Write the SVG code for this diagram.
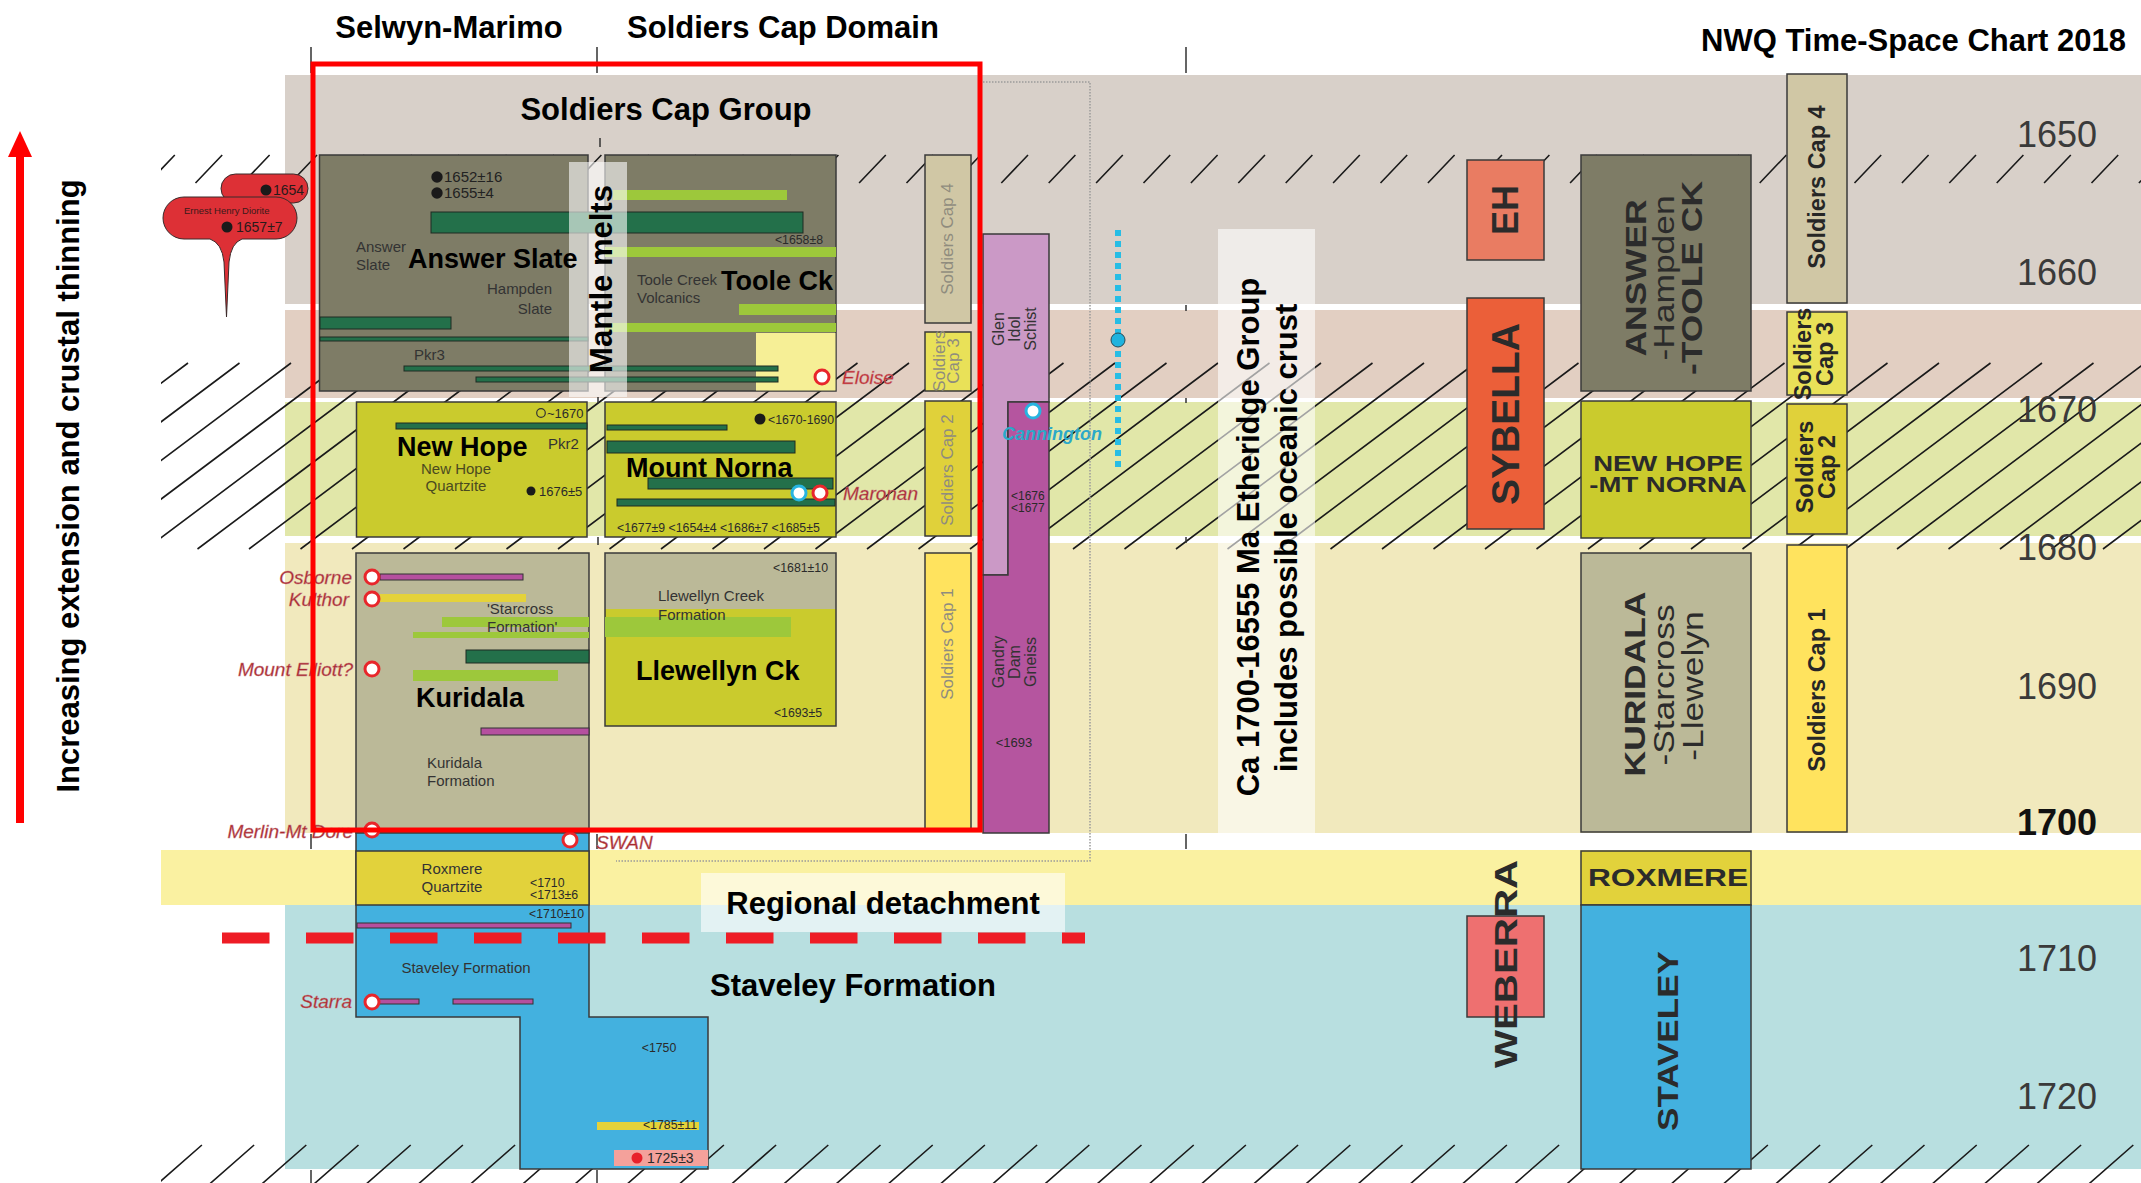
<svg xmlns="http://www.w3.org/2000/svg" width="2141" height="1183" viewBox="0 0 2141 1183">
<defs>
<style>
text{font-family:"Liberation Sans",Arial,Helvetica,sans-serif}
.hb{font-weight:bold;font-size:31px;fill:#000}
.lb{font-weight:bold;font-size:27px;fill:#000}
.sm{font-size:15px;fill:#333}
.xs{font-size:12.3px;fill:#2a2a2a}
.site{font-style:italic;font-size:19px;fill:#A8282F;stroke:#C87a7e;stroke-width:0.4}
.ax{font-size:36px;fill:#3a3a3a}
.box{stroke:#3a3a3a;stroke-width:1.5}
.dg{fill:#23704A;stroke:#1e2a22;stroke-width:1}
.lg{fill:#9DC83B}
.pu{fill:#B5509F;stroke:#333;stroke-width:1}
.ye{fill:#E4D23A}
.scL{font-size:17px;fill:#8F8C7E}
.scR{font-size:23.5px;font-weight:bold;fill:#262626}
.rb{font-weight:bold;fill:#2b2b2b}
.rc{fill:#fff;stroke:#E8262B;stroke-width:3}
.cc{fill:#fff;stroke:#27B4E0;stroke-width:3}
</style>
<clipPath id="hc"><rect x="161" y="0" width="1980" height="1183"/></clipPath>
</defs>

<g id="bands">
<rect x="285" y="75" width="1856" height="229" fill="#D8D0C9"/>
<rect x="285" y="310" width="1856" height="88" fill="#E2CFC2"/>
<rect x="285" y="402" width="1856" height="134" fill="#E1E7A9"/>
<rect x="285" y="543" width="1856" height="290" fill="#F1E9BD"/>
<rect x="161" y="850" width="1980" height="55" fill="#FAF1A1"/>
<rect x="285" y="905" width="1856" height="264" fill="#B8DFE0"/>
</g>

<g id="hatch" clip-path="url(#hc)" stroke="#1a1a1a" stroke-width="1.6" fill="none">
<path d="M-60 549l248-186M-8.5 549l248-186M43 549l248-186M94.5 549l248-186M146 549l248-186M197.5 549l248-186M249 549l248-186M300.5 549l248-186M352 549l248-186M403.5 549l248-186M455 549l248-186M506.5 549l248-186M558 549l248-186M609.5 549l248-186M661 549l248-186M712.5 549l248-186M764 549l248-186M815.5 549l248-186M867 549l248-186M918.5 549l248-186M970 549l248-186M1021.5 549l248-186M1073 549l248-186M1124.5 549l248-186M1176 549l248-186M1227.5 549l248-186M1279 549l248-186M1330.5 549l248-186M1382 549l248-186M1433.5 549l248-186M1485 549l248-186M1536.5 549l248-186M1588 549l248-186M1639.5 549l248-186M1691 549l248-186M1742.5 549l248-186M1794 549l248-186M1845.5 549l248-186M1897 549l248-186M1948.5 549l248-186M2000 549l248-186M2051.5 549l248-186M2103 549l248-186"/>
<path d="M148.1 183l26.7-28M195.5 183l26.7-28M242.9 183l26.7-28M290.3 183l26.7-28M337.7 183l26.7-28M385.1 183l26.7-28M432.5 183l26.7-28M479.9 183l26.7-28M527.3 183l26.7-28M574.7 183l26.7-28M622.1 183l26.7-28M669.5 183l26.7-28M716.9 183l26.7-28M764.3 183l26.7-28M811.7 183l26.7-28M859.1 183l26.7-28M906.5 183l26.7-28M953.9 183l26.7-28M1001.3 183l26.7-28M1048.7 183l26.7-28M1096.1 183l26.7-28M1143.5 183l26.7-28M1190.9 183l26.7-28M1238.3 183l26.7-28M1285.7 183l26.7-28M1333.1 183l26.7-28M1380.5 183l26.7-28M1427.9 183l26.7-28M1475.3 183l26.7-28M1522.7 183l26.7-28M1570.1 183l26.7-28M1617.5 183l26.7-28M1664.9 183l26.7-28M1712.3 183l26.7-28M1759.7 183l26.7-28M1807.1 183l26.7-28M1854.5 183l26.7-28M1901.9 183l26.7-28M1949.3 183l26.7-28M1996.7 183l26.7-28M2044.1 183l26.7-28M2091.5 183l26.7-28M2138.9 183l26.7-28"/>
<path d="M154 1187l47.9-42M206.2 1187l47.9-42M258.4 1187l47.9-42M310.6 1187l47.9-42M362.8 1187l47.9-42M415 1187l47.9-42M467.2 1187l47.9-42M519.4 1187l47.9-42M571.6 1187l47.9-42M623.8 1187l47.9-42M676 1187l47.9-42M728.2 1187l47.9-42M780.4 1187l47.9-42M832.6 1187l47.9-42M884.8 1187l47.9-42M937 1187l47.9-42M989.2 1187l47.9-42M1041.4 1187l47.9-42M1093.6 1187l47.9-42M1145.8 1187l47.9-42M1198 1187l47.9-42M1250.2 1187l47.9-42M1302.4 1187l47.9-42M1354.6 1187l47.9-42M1406.8 1187l47.9-42M1459 1187l47.9-42M1511.2 1187l47.9-42M1563.4 1187l47.9-42M1615.6 1187l47.9-42M1667.8 1187l47.9-42M1720 1187l47.9-42M1772.2 1187l47.9-42M1824.4 1187l47.9-42M1876.6 1187l47.9-42M1928.8 1187l47.9-42M1981 1187l47.9-42M2033.2 1187l47.9-42M2085.4 1187l47.9-42M2137.6 1187l47.9-42"/>
</g>

<g id="column-ticks" stroke="#333" stroke-width="1.5">
<path d="M311 47V73M597 47V73M1186 47V73M600 138V147M598 397V403M598 537V545M1186 305V311M1186 398V403M1186 537V543M311 834V849M597 834V849M1186 834V849M311 1170V1183M597 1170V1183"/>
</g>

<g id="headers">
<text class="hb" x="449" y="38" text-anchor="middle">Selwyn-Marimo</text>
<text class="hb" x="783" y="38" text-anchor="middle">Soldiers Cap Domain</text>
<text class="hb" x="2126" y="51" text-anchor="end">NWQ Time-Space Chart 2018</text>
<text class="hb" x="666" y="120" text-anchor="middle">Soldiers Cap Group</text>
</g>

<g id="time-axis" text-anchor="middle">
<text class="ax" x="2057" y="147">1650</text>
<text class="ax" x="2057" y="285">1660</text>
<text class="ax" x="2057" y="422">1670</text>
<text class="ax" x="2057" y="560">1680</text>
<text class="ax" x="2057" y="699">1690</text>
<text class="ax" x="2057" y="835" font-weight="bold" style="fill:#111">1700</text>
<text class="ax" x="2057" y="971">1710</text>
<text class="ax" x="2057" y="1109">1720</text>
</g>

<g id="ernest-henry">
<rect x="221" y="174" width="87" height="29" rx="14.5" fill="#DD3036" stroke="#3a2a2a" stroke-width="1"/>
<circle cx="266" cy="190" r="5.5" fill="#1a1a1a"/>
<text x="273" y="195" font-size="14" fill="#2a1a1a">1654</text>
<path d="M184 197H276A21 21 0 0 1 276 239H242Q231 243 229 262L226.5 317L224 262Q222 243 210 239H184A21 21 0 0 1 184 197Z" fill="#DD3036" stroke="#3a2a2a" stroke-width="1"/>
<text x="184" y="214" font-size="9.5" fill="#3a1a1a">Ernest Henry Diorite</text>
<circle cx="227" cy="227" r="5.5" fill="#1a1a1a"/>
<text x="236" y="232" font-size="14" fill="#2a1a1a">1657±7</text>
</g>

<g id="answer-slate">
<rect class="box" x="319.5" y="155" width="268.5" height="236" fill="#7E7C66"/>
</g>
<g id="toole-ck">
<rect class="box" x="605" y="155" width="231" height="236" fill="#7E7C66"/>
<rect x="756" y="333" width="79.5" height="57.5" fill="#F6EF96"/>
</g>
<g id="new-hope">
<rect class="box" x="356.5" y="402" width="230.5" height="135" fill="#CACB2D"/>
</g>
<g id="mount-norna">
<rect class="box" x="605" y="402" width="231" height="135" fill="#CACB2D"/>
</g>
<g id="kuridala">
<rect class="box" x="356" y="553" width="233" height="280" fill="#BBB998"/>
</g>
<g id="llewellyn-ck">
<rect x="605" y="553" width="231" height="56" fill="#BBB998"/>
<rect x="605" y="609" width="231" height="117" fill="#CACB2D"/>
<rect class="box" x="605" y="553" width="231" height="173" fill="none"/>
</g>
<g id="staveley">
<polygon class="box" points="356,833 589,833 589,1017 708,1017 708,1169 520,1169 520,1017 356,1017" fill="#43B1DF"/>
</g>
<g id="roxmere">
<rect class="box" x="356" y="851" width="233" height="54" fill="#E2D23B"/>
<text class="sm" x="452" y="874" text-anchor="middle" font-size="16.5">Roxmere</text>
<text class="sm" x="452" y="892" text-anchor="middle" font-size="16.5">Quartzite</text>
<text class="xs" x="530" y="887">&lt;1710</text>
<text class="xs" x="530" y="899">&lt;1713±6</text>
</g>

<g id="bars">
<rect class="dg" x="431" y="212" width="372" height="21"/>
<rect class="dg" x="320" y="317" width="131" height="12"/>
<rect class="dg" x="320" y="337" width="268" height="4"/>
<rect class="dg" x="404" y="366" width="374" height="5"/>
<rect class="dg" x="476" y="377" width="302" height="5"/>
<rect class="dg" x="396" y="423" width="191" height="6"/>
<rect class="dg" x="607" y="425" width="120" height="5"/>
<rect class="dg" x="607" y="441" width="188" height="12"/>
<rect class="dg" x="648" y="478" width="185" height="11"/>
<rect class="dg" x="617" y="499" width="218" height="7"/>
<rect class="dg" x="466" y="650" width="123" height="13"/>
<rect class="lg" x="613" y="190" width="174" height="10"/>
<rect class="lg" x="605" y="247" width="231" height="10"/>
<rect class="lg" x="739" y="304" width="97" height="11"/>
<rect class="lg" x="605" y="323" width="231" height="9"/>
<rect class="lg" x="442" y="617" width="147" height="10"/>
<rect class="lg" x="413" y="632" width="176" height="6"/>
<rect class="lg" x="413" y="670" width="145" height="11"/>
<rect class="lg" x="605" y="617" width="186" height="20"/>
<rect class="pu" x="380" y="574" width="143" height="6"/>
<rect class="pu" x="481" y="728" width="108" height="7"/>
<rect class="pu" x="357" y="923" width="214" height="5"/>
<rect class="pu" x="375" y="999" width="44" height="5"/>
<rect class="pu" x="453" y="999" width="80" height="5"/>
<rect class="ye" x="380" y="594" width="146" height="8"/>
<rect class="ye" x="597" y="1122" width="102" height="8"/>
<rect x="614" y="1150" width="94" height="16" fill="#F4A19B"/>
</g>

<g id="mantle-melts">
<rect x="569" y="162" width="58" height="235" fill="#fff" opacity="0.6"/>
<text class="hb" transform="translate(600,279) rotate(-90)" y="12" text-anchor="middle">Mantle melts</text>
</g>

<g id="box-labels">
<circle cx="437" cy="177" r="5.7" fill="#1a1a1a"/>
<text x="444" y="182" font-size="15" fill="#222">1652±16</text>
<circle cx="437" cy="193" r="5.7" fill="#1a1a1a"/>
<text x="444" y="198" font-size="15" fill="#222">1655±4</text>
<text class="sm" x="356" y="252">Answer</text>
<text class="sm" x="356" y="270">Slate</text>
<text class="lb" x="408" y="268">Answer Slate</text>
<text class="sm" x="552" y="294" text-anchor="end">Hampden</text>
<text class="sm" x="552" y="314" text-anchor="end">Slate</text>
<text class="sm" x="414" y="360">Pkr3</text>
<text class="xs" x="823" y="244" text-anchor="end">&lt;1658±8</text>
<text class="sm" x="637" y="285" font-size="14.5">Toole Creek</text>
<text class="sm" x="637" y="303" font-size="14.5">Volcanics</text>
<text class="lb" x="721" y="290">Toole Ck</text>
<circle cx="541" cy="413" r="4.3" fill="none" stroke="#333" stroke-width="1.2"/>
<text x="547" y="418" font-size="13" fill="#2a2a2a">~1670</text>
<text class="lb" x="397" y="456">New Hope</text>
<text class="sm" x="456" y="474" text-anchor="middle" font-size="14.3" style="fill:#4a4a20">New Hope</text>
<text class="sm" x="456" y="491" text-anchor="middle" font-size="14.3" style="fill:#4a4a20">Quartzite</text>
<text class="sm" x="548" y="449">Pkr2</text>
<circle cx="531" cy="491" r="4.5" fill="#1a1a1a"/>
<text x="539" y="496" font-size="13" fill="#2a2a2a">1676±5</text>
<circle cx="760" cy="419" r="5.5" fill="#1a1a1a"/>
<text class="xs" x="768" y="424">&lt;1670-1690</text>
<text class="lb" x="626" y="477">Mount Norna</text>
<text class="xs" x="617" y="532">&lt;1677±9 &lt;1654±4 &lt;1686±7 &lt;1685±5</text>
<text class="sm" x="487" y="614">'Starcross</text>
<text class="sm" x="487" y="632">Formation'</text>
<text class="lb" x="416" y="707">Kuridala</text>
<text class="sm" x="427" y="768">Kuridala</text>
<text class="sm" x="427" y="786">Formation</text>
<text class="xs" x="828" y="572" text-anchor="end">&lt;1681±10</text>
<text class="sm" x="658" y="601" font-size="14.2">Llewellyn Creek</text>
<text class="sm" x="658" y="620" font-size="14.2">Formation</text>
<text class="lb" x="636" y="680">Llewellyn Ck</text>
<text class="xs" x="822" y="717" text-anchor="end">&lt;1693±5</text>
<text class="xs" x="584" y="918" text-anchor="end">&lt;1710±10</text>
<text class="sm" x="466" y="973" text-anchor="middle" font-size="17">Staveley Formation</text>
<text class="xs" x="659" y="1052" text-anchor="middle">&lt;1750</text>
<text class="xs" x="697" y="1129" text-anchor="end">&lt;1785±11</text>
<circle cx="637" cy="1158" r="5.5" fill="#E8202A"/>
<text x="647" y="1163" font-size="14" fill="#2a2a2a">1725±3</text>
</g>

<g id="soldiers-cap-left">
<rect class="box" x="925" y="155" width="46" height="168" fill="#D0C7A5"/>
<rect class="box" x="925" y="332" width="46" height="59" fill="#E9E158"/>
<rect class="box" x="925" y="401" width="46" height="135" fill="#E0D13A"/>
<rect class="box" x="925" y="553" width="46" height="277" fill="#FFE35E"/>
<text class="scL" transform="translate(953,239) rotate(-90)" text-anchor="middle">Soldiers Cap 4</text>
<text class="scL" transform="translate(945,361) rotate(-90)" text-anchor="middle" font-size="12.5">Soldiers</text>
<text class="scL" transform="translate(959,361) rotate(-90)" text-anchor="middle" font-size="12.5">Cap 3</text>
<text class="scL" transform="translate(953,470) rotate(-90)" text-anchor="middle">Soldiers Cap 2</text>
<text class="scL" transform="translate(953,644) rotate(-90)" text-anchor="middle" font-size="16.5">Soldiers Cap 1</text>
</g>

<g id="glen-idol-schist">
<polygon class="box" points="983,234 1049,234 1049,402 1008,402 1008,575 983,575" fill="#CB99C6"/>
<g font-size="16" fill="#333" text-anchor="middle">
<text transform="translate(1004,329) rotate(-90)">Glen</text>
<text transform="translate(1020,329) rotate(-90)">Idol</text>
<text transform="translate(1036,329) rotate(-90)">Schist</text>
</g>
</g>
<g id="gandry-dam-gneiss">
<polygon class="box" points="1008,402 1049,402 1049,833 983,833 983,575 1008,575" fill="#B5559F"/>
<g font-size="16" fill="#333" text-anchor="middle">
<text transform="translate(1004,662) rotate(-90)">Gandry</text>
<text transform="translate(1020,662) rotate(-90)">Dam</text>
<text transform="translate(1036,662) rotate(-90)">Gneiss</text>
</g>
<text x="1011" y="500" font-size="12" fill="#2a2a2a">&lt;1676</text>
<text x="1011" y="512" font-size="12" fill="#2a2a2a">&lt;1677</text>
<text x="1014" y="747" font-size="13" fill="#2a2a2a" text-anchor="middle">&lt;1693</text>
</g>

<g id="etheridge">
<rect x="1218" y="229" width="97" height="604" fill="#fff" opacity="0.6"/>
<text class="hb" font-size="31.7" transform="translate(1259,537) rotate(-90)" text-anchor="middle">Ca 1700-16555 Ma Etheridge Group</text>
<text class="hb" font-size="31.7" transform="translate(1297,538) rotate(-90)" text-anchor="middle">includes possible oceanic crust</text>
</g>

<g id="regional-detachment">
<rect x="701" y="873" width="364" height="59" fill="#fff" opacity="0.6"/>
<text class="hb" x="883" y="914" text-anchor="middle">Regional detachment</text>
</g>
<text id="staveley-label" class="hb" x="710" y="996" font-size="30">Staveley Formation</text>

<g id="right-eh">
<rect class="box" x="1467" y="160" width="77" height="100" fill="#E97C62"/>
<text class="rb" font-size="36" transform="translate(1518,210) rotate(-90)" text-anchor="middle">EH</text>
</g>
<g id="right-sybella">
<rect class="box" x="1467" y="298" width="77" height="231" fill="#EB5F39"/>
<text class="rb" font-size="39" transform="translate(1519,414) rotate(-90)" text-anchor="middle">SYBELLA</text>
</g>
<g id="right-weberra">
<rect class="box" x="1467" y="916" width="77" height="101" fill="#EE7070"/>
<text class="rb" font-size="31" transform="translate(1517,964) rotate(-90) scale(1.3,1)" text-anchor="middle">WEBERRA</text>
</g>
<g id="right-answer">
<rect class="box" x="1581" y="155" width="170" height="236" fill="#7E7C66"/>
<g font-size="30" fill="#2b2b2b" text-anchor="middle">
<text font-weight="bold" transform="translate(1646,278) rotate(-90) scale(1.18,1)">ANSWER</text>
<text transform="translate(1674,278) rotate(-90) scale(1.18,1)">-Hampden</text>
<text font-weight="bold" transform="translate(1702,278) rotate(-90) scale(1.18,1)">-TOOLE CK</text>
</g>
</g>
<g id="right-new-hope">
<rect class="box" x="1581" y="401" width="170" height="137" fill="#CACB2D"/>
<g font-size="22" font-weight="bold" fill="#2b2b2b" text-anchor="middle">
<text transform="translate(1668,471) scale(1.25,1)">NEW HOPE</text>
<text transform="translate(1668,492) scale(1.25,1)">-MT NORNA</text>
</g>
</g>
<g id="right-kuridala">
<rect class="box" x="1581" y="553" width="170" height="279" fill="#BBB998"/>
<g font-size="30" fill="#2b2b2b" text-anchor="middle">
<text font-weight="bold" transform="translate(1645,684) rotate(-90) scale(1.18,1)">KURIDALA</text>
<text transform="translate(1674,685) rotate(-90) scale(1.18,1)">-Starcross</text>
<text transform="translate(1703,686) rotate(-90) scale(1.18,1)">-Llewelyn</text>
</g>
</g>
<g id="right-roxmere">
<rect class="box" x="1581" y="851" width="170" height="54" fill="#E2D23B"/>
<text class="rb" font-size="24" transform="translate(1668,886) scale(1.32,1)" text-anchor="middle">ROXMERE</text>
</g>
<g id="right-staveley">
<rect class="box" x="1581" y="905" width="170" height="264" fill="#43B1DF"/>
<text class="rb" font-size="30" transform="translate(1678,1041) rotate(-90) scale(1.17,1)" text-anchor="middle">STAVELEY</text>
</g>
<g id="right-soldiers-cap">
<rect class="box" x="1787" y="74" width="60" height="229" fill="#D0C7A5"/>
<rect class="box" x="1787" y="312" width="60" height="83" fill="#E9E158"/>
<rect class="box" x="1787" y="404" width="60" height="130" fill="#E0D13A"/>
<rect class="box" x="1787" y="545" width="60" height="287" fill="#FFE35E"/>
<text class="scR" font-size="24" transform="translate(1825,187) rotate(-90)" text-anchor="middle">Soldiers Cap 4</text>
<text class="scR" font-size="17" transform="translate(1811,354) rotate(-90)" text-anchor="middle">Soldiers</text>
<text class="scR" font-size="17" transform="translate(1833,354) rotate(-90)" text-anchor="middle">Cap 3</text>
<text class="scR" font-size="21" transform="translate(1813,467) rotate(-90)" text-anchor="middle">Soldiers</text>
<text class="scR" font-size="21" transform="translate(1835,467) rotate(-90)" text-anchor="middle">Cap 2</text>
<text class="scR" transform="translate(1825,690) rotate(-90)" text-anchor="middle">Soldiers Cap 1</text>
</g>

<g id="deposits">
<circle class="rc" cx="822" cy="377" r="7"/>
<text class="site" x="842" y="384" style="fill:#C0282E">Eloise</text>
<circle class="cc" cx="799" cy="493" r="7"/>
<circle class="rc" cx="820" cy="493" r="7"/>
<text class="site" x="843" y="500">Maronan</text>
<circle class="rc" cx="372" cy="577" r="7"/>
<text class="site" x="352" y="584" text-anchor="end">Osborne</text>
<circle class="rc" cx="372" cy="599" r="7"/>
<text class="site" x="349" y="606" text-anchor="end">Kulthor</text>
<circle class="rc" cx="372" cy="669" r="7"/>
<text class="site" x="353" y="676" text-anchor="end">Mount Elliott?</text>
<circle class="rc" cx="372" cy="830" r="7"/>
<text class="site" x="353" y="838" text-anchor="end">Merlin-Mt Dore</text>
<circle class="rc" cx="570" cy="840" r="7"/>
<text class="site" x="596" y="849">SWAN</text>
<circle class="rc" cx="372" cy="1002" r="7"/>
<text class="site" x="352" y="1008" text-anchor="end">Starra</text>
<circle class="cc" cx="1033" cy="411" r="7"/>
<text x="1002" y="440" font-size="18" font-style="italic" font-weight="bold" fill="#2BA9C9">Cannington</text>
</g>

<g id="connectors">
<polyline points="983,82 1090,82 1090,861 616,861" fill="none" stroke="#9a9a9a" stroke-width="1.5" stroke-dasharray="1.5 1.5"/>
<line x1="1118" y1="230" x2="1118" y2="470" stroke="#26BDE5" stroke-width="6" stroke-dasharray="6 5"/>
<circle cx="1118" cy="340" r="7" fill="#1FB3DE" stroke="#2a4a55" stroke-width="1"/>
<line x1="222" y1="938" x2="1085" y2="938" stroke="#EE1C25" stroke-width="11" stroke-dasharray="47.5 36.5"/>
<line x1="20" y1="152" x2="20" y2="823" stroke="#FF0000" stroke-width="8"/>
<polygon points="20,131 8,157 32,157" fill="#FF0000"/>
<rect x="313" y="64" width="667" height="766" fill="none" stroke="#FF0000" stroke-width="5"/>
</g>

<text id="extension-label" class="hb" font-size="32" transform="translate(79,486) rotate(-90)" text-anchor="middle">Increasing extension and crustal thinning</text>
</svg>
